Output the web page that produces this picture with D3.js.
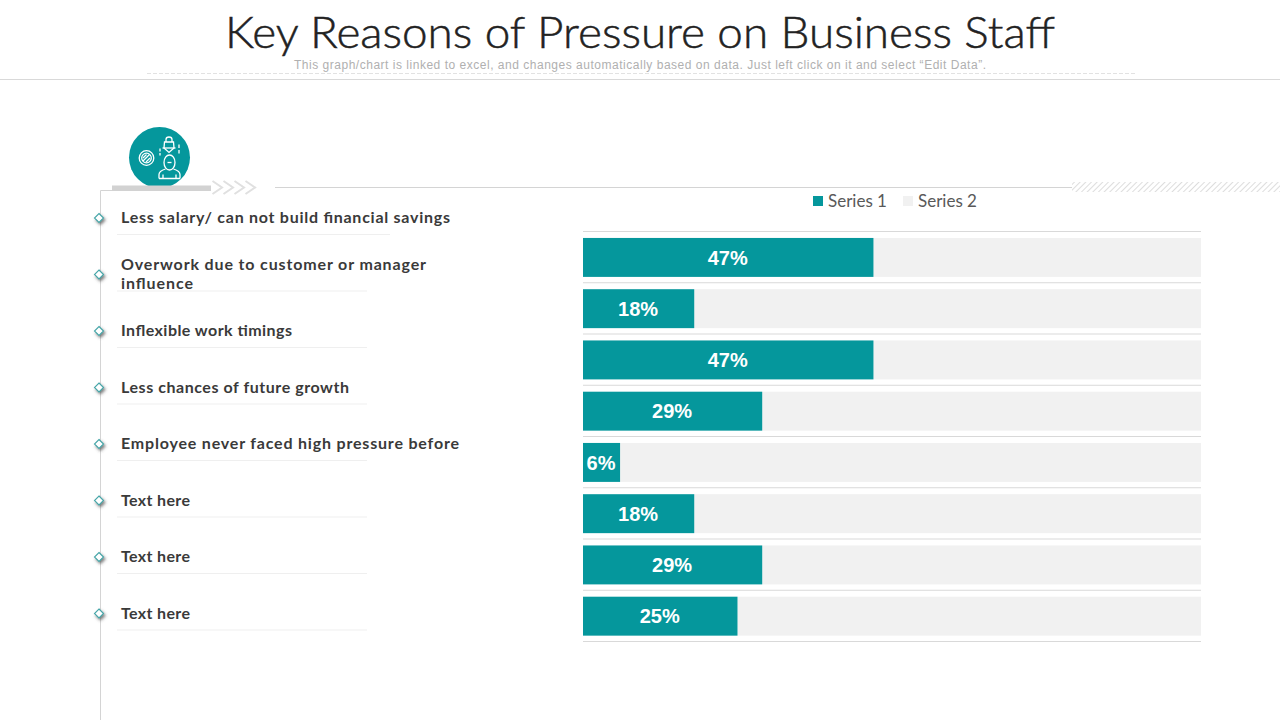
<!DOCTYPE html>
<html>
<head>
<meta charset="utf-8">
<script src="https://cdn.jsdelivr.net/npm/d3@7"></script>
<style>
  html, body { margin: 0; padding: 0; background: #fff; }
  svg { display: block; }
</style>
</head>
<body>
<div id="chart"></div>
<script>
let titleText = "Key Reasons of Pressure on Business Staff";
let subtitleText = "This graph/chart is linked to excel, and changes automatically based on data. Just left click on it and select \u201CEdit Data\u201D.";
let categories = [
    ["Less salary/ can not build financial savings"],
    ["Overwork due to customer or manager", "influence"],
    ["Inflexible work timings"],
    ["Less chances of future growth"],
    ["Employee never faced high pressure before"],
    ["Text here"],
    ["Text here"],
    ["Text here"]
];
let categoryWidths = [[329], [305, 72], [171], [228], [338], [69], [69], [69]];
let series1 = [47, 18, 47, 29, 6, 18, 29, 25];
let series2 = [53, 82, 53, 71, 94, 82, 71, 75];
let legendNames = ["Series 1", "Series 2"];

let teal = "#05979c";
let pale = "#f1f1f1";
let rule = "#d9d9d9";

let svg = d3.select("#chart").append("svg").attr("width", 1280).attr("height", 720);
let defs = svg.append("defs");

let hatch = defs.append("pattern").attr("id", "hatch").attr("width", 4).attr("height", 4)
    .attr("patternUnits", "userSpaceOnUse").attr("patternTransform", "rotate(45)");
hatch.append("line").attr("x1", 0).attr("y1", 0).attr("x2", 0).attr("y2", 4)
    .style("stroke", "#d4d4d4").style("stroke-width", 1.6);

let shadow = defs.append("filter").attr("id", "shadow").attr("x", "-80%").attr("y", "-80%").attr("width", "260%").attr("height", "260%");
shadow.append("feDropShadow").attr("dx", 1.5).attr("dy", 2).attr("stdDeviation", 1.4).attr("flood-color", "#444").attr("flood-opacity", 0.7);

// header
svg.append("text").attr("x", 640).attr("y", 48).attr("text-anchor", "middle")
    .attr("textLength", 830).attr("lengthAdjust", "spacingAndGlyphs")
    .style("font-family", "Lato").style("font-weight", 300).style("font-size", "44px")
    .style("fill", "#222").style("stroke", "#222").style("stroke-width", 0.5)
    .text(titleText);
svg.append("text").attr("x", 640).attr("y", 69).attr("text-anchor", "middle")
    .attr("textLength", 692).attr("lengthAdjust", "spacing")
    .style("font-family", "Liberation Sans").style("font-size", "12px").style("fill", "#b0b0b0")
    .text(subtitleText);
svg.append("line").attr("x1", 147).attr("x2", 1135).attr("y1", 73.5).attr("y2", 73.5)
    .style("stroke", "#e2e2e2").style("stroke-dasharray", "4 2");
svg.append("line").attr("x1", 0).attr("x2", 1280).attr("y1", 79.5).attr("y2", 79.5)
    .style("stroke", "#d9d9d9");

// left rail and top rule
svg.append("path").attr("d", "M112,190.5H100.5V720").style("fill", "none").style("stroke", "#d4d4d4");
svg.append("line").attr("x1", 275).attr("x2", 1072).attr("y1", 187.5).attr("y2", 187.5).style("stroke", "#d4d4d4");
svg.append("rect").attr("x", 1072).attr("y", 182).attr("width", 208).attr("height", 10).style("fill", "url(#hatch)");

// icon
let icon = svg.append("g").attr("transform", "translate(159.5,157.5)");
icon.append("circle").attr("r", 30.5).style("fill", teal);
let glyph = icon.append("g").style("fill", "none").style("stroke", "#fff").style("stroke-width", 1.3);
glyph.append("circle").attr("cx", -13).attr("cy", 0.5).attr("r", 7.3);
glyph.append("circle").attr("cx", -13).attr("cy", 0.5).attr("r", 4.8);
glyph.append("path").attr("d", "M-16.5,3.5L-10,-3M-16.5,0.5L-13,-3M-13.5,4.5L-9.5,0.5");
// bag
glyph.append("path").attr("d", "M6.5,-15.5V-18Q6.5,-20.5 9.5,-20.5Q12.5,-20.5 12.5,-18V-15.5");
glyph.append("path").attr("d", "M5,-15.5H14L14.5,-9.5L9.5,-5L4.5,-9.5Z");
glyph.append("path").attr("d", "M3,-9.5H16");
glyph.append("path").attr("d", "M0.5,-9V-6M0.5,-4.5V-2M19.5,-13V-9.5M19.5,-7.5V-4");
// person
glyph.append("ellipse").attr("cx", 10).attr("cy", 5).attr("rx", 5.5).attr("ry", 7.5);
glyph.append("path").attr("d", "M8,5H12");
glyph.append("path").attr("d", "M-0.5,21V17Q-0.5,13.5 6,11.5M20.5,21V17Q20.5,13.5 14,11.5M-0.5,21H20.5M3.5,21V17M16.5,21V17");

// thick bar and chevrons
svg.append("rect").attr("x", 112).attr("y", 185.5).attr("width", 99).attr("height", 5.5).style("fill", "#d2d2d2");
let chevrons = [0, 1, 2, 3];
svg.append("g").selectAll("path").data(chevrons).enter().append("path")
    .attr("d", function(d) { let x = 212.5 + d * 11; return "M" + x + ",181L" + (x + 9.5) + ",187.5L" + x + ",194"; })
    .style("fill", "none").style("stroke", "#e0e0e0").style("stroke-width", 2);

// category list
let yList = d3.scalePoint().domain(d3.range(categories.length)).range([218, 613.5]);
let list = svg.append("g").selectAll("g").data(categories).enter().append("g")
    .attr("transform", function(d, i) { return "translate(0," + yList(i) + ")"; });

list.append("path").attr("d", "M99,-4.5L103.5,0L99,4.5L94.5,0Z")
    .style("fill", "#fff").style("stroke", "#45a5a8").style("stroke-width", 1.1)
    .attr("filter", "url(#shadow)");
list.append("line").attr("x1", 117).attr("y1", 16.5).attr("y2", 16.5)
    .attr("x2", function(d, i) { return i == 0 ? 390 : 367; })
    .style("stroke", "#efefef");
list.each(function(d, i) {
    let row = d3.select(this);
    d.forEach(function(line, k) {
        row.append("text").attr("x", 121)
            .attr("y", d.length == 1 ? 5 : -4.5 + k * 19.3)
            .attr("textLength", categoryWidths[i][k]).attr("lengthAdjust", "spacing")
            .style("font-family", "Lato").style("font-weight", 700).style("font-size", "16px").style("fill", "#3a3a3a")
            .text(line);
    });
});

// bars
let x = d3.scaleLinear().domain([0, 100]).range([583, 1201]);
let y = d3.scaleBand().domain(d3.range(series1.length)).range([231.8, 641.8]).paddingInner(0.24).paddingOuter(0.12);

let gridLines = d3.range(series1.length + 1);
svg.append("g").selectAll("line").data(gridLines).enter().append("line")
    .attr("x1", x(0)).attr("x2", x(100))
    .attr("y1", function(d) { return 231.5 + d * y.step(); })
    .attr("y2", function(d) { return 231.5 + d * y.step(); })
    .style("stroke", rule);

svg.append("g").selectAll("rect").data(series2).enter().append("rect")
    .attr("x", function(d, i) { return x(series1[i]); })
    .attr("y", function(d, i) { return y(i); })
    .attr("width", function(d) { return x(d) - x(0); })
    .attr("height", y.bandwidth())
    .style("fill", pale);

svg.append("g").selectAll("rect").data(series1).enter().append("rect")
    .attr("x", x(0))
    .attr("y", function(d, i) { return y(i); })
    .attr("width", function(d) { return x(d) - x(0); })
    .attr("height", y.bandwidth())
    .style("fill", teal);

svg.append("g").selectAll("text").data(series1).enter().append("text")
    .attr("x", function(d) { return (x(0) + x(d)) / 2 - 0.5; })
    .attr("y", function(d, i) { return y(i) + y.bandwidth() / 2 + 7.1; })
    .attr("text-anchor", "middle")
    .style("font-family", "Liberation Sans").style("font-weight", 700).style("font-size", "20px").style("fill", "#fff")
    .text(function(d) { return d + "%"; });

// legend
let legendX = [813, 903];
let legendColors = [teal, pale];
let legend = svg.append("g").selectAll("g").data(legendNames).enter().append("g")
    .attr("transform", function(d, i) { return "translate(" + legendX[i] + ",0)"; });
legend.append("rect").attr("y", 196).attr("width", 10).attr("height", 10)
    .style("fill", function(d, i) { return legendColors[i]; });
legend.append("text").attr("x", 15).attr("y", 207)
    .style("font-family", "Lato").style("font-size", "17px").style("fill", "#595959")
    .text(function(d) { return d; });
</script>
</body>
</html>
